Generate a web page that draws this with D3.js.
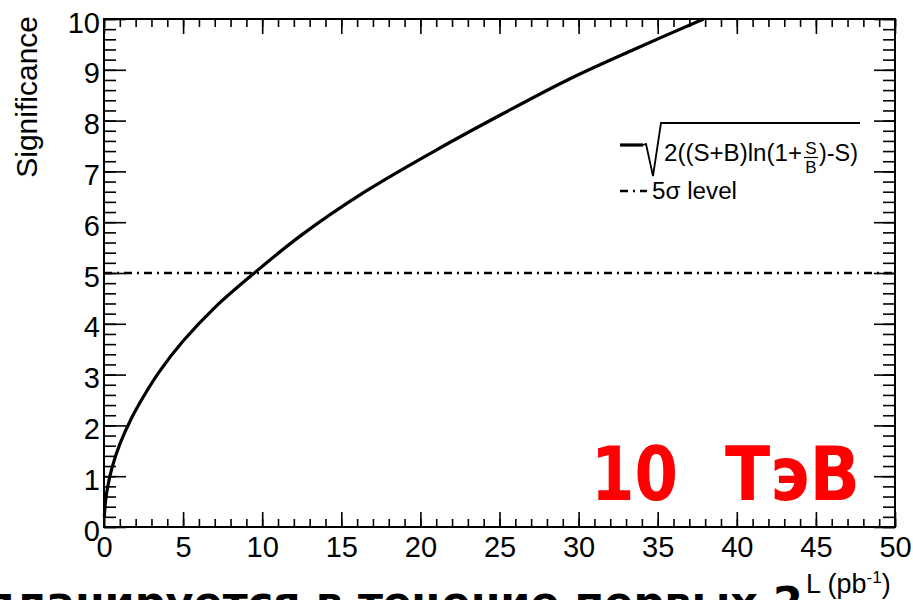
<!DOCTYPE html>
<html>
<head>
<meta charset="utf-8">
<script src="https://cdn.jsdelivr.net/npm/d3@7"></script>
<style>
  html, body { margin: 0; padding: 0; background: #fff; }
  svg { display: block; }
</style>
</head>
<body>
<svg id="chart" width="913" height="600"></svg>
<script>
// ---- data ----
const lumi = [0.02, 0.1, 0.25, 0.5, 1, 1.75, 2.5, 3.5, 5, 7, 9.5, 12.5, 16.5, 21, 25, 29.3, 33.5, 37.9];
const significance = [0.2, 0.52, 0.82, 1.16, 1.63, 2.15, 2.57, 3.06, 3.66, 4.32, 5.0, 5.75, 6.6, 7.42, 8.1, 8.8, 9.4, 10.0];
const fiveSigma = 5;
const xTicks = [0, 5, 10, 15, 20, 25, 30, 35, 40, 45, 50];
const yTicks = [0, 1, 2, 3, 4, 5, 6, 7, 8, 9, 10];
const xLabel = "L (pb";
const yLabel = "Significance";
const legendLevel = "5\u03C3 level";
const energyNumber = "10";
const energyUnit = "ТэВ";
const footerText = "планируется в течение первых 2";

(function () {
const svg = d3.select("#chart");
const pLeft = 104, pRight = 895, pTop = 19, pBottom = 527;
const x = d3.scaleLinear().domain([0, 50]).range([pLeft, pRight]);
const y = d3.scaleLinear().domain([0, 10]).range([pBottom, pTop]);
const font = "'Liberation Sans', Arial, Helvetica, sans-serif";

// frame
svg.append("rect").attr("x", pLeft).attr("y", pTop)
  .attr("width", pRight - pLeft).attr("height", pBottom - pTop)
  .attr("fill", "none").attr("stroke", "#000").attr("stroke-width", 2);

const xMinor = d3.range(0, 51, 1);
const yMinor = d3.range(0, 51, 1).map(v => v / 5);

function styleAxis(g, labels) {
  g.select(".domain").remove();
  g.selectAll("line").attr("stroke", "#000").attr("stroke-width", 1.6);
  if (labels) {
    g.selectAll("text").attr("font-family", font).attr("font-size", 29).attr("fill", "#000");
  } else {
    g.selectAll("text").remove();
  }
}

// bottom axis
svg.append("g").attr("transform", `translate(0,${pBottom})`)
  .call(d3.axisBottom(x).tickValues(xMinor).tickSize(-8).tickFormat(""))
  .call(g => styleAxis(g, false));
svg.append("g").attr("transform", `translate(0,${pBottom})`)
  .call(d3.axisBottom(x).tickValues(xTicks).tickSize(-15).tickPadding(9).tickFormat(d3.format("d")))
  .call(g => styleAxis(g, true));
// top axis
svg.append("g").attr("transform", `translate(0,${pTop})`)
  .call(d3.axisTop(x).tickValues(xMinor).tickSize(-8).tickFormat(""))
  .call(g => styleAxis(g, false));
svg.append("g").attr("transform", `translate(0,${pTop})`)
  .call(d3.axisTop(x).tickValues(xTicks).tickSize(-15).tickFormat(""))
  .call(g => styleAxis(g, false));
// left axis
svg.append("g").attr("transform", `translate(${pLeft},0)`)
  .call(d3.axisLeft(y).tickValues(yMinor).tickSize(-12).tickFormat(""))
  .call(g => styleAxis(g, false));
svg.append("g").attr("transform", `translate(${pLeft},0)`)
  .call(d3.axisLeft(y).tickValues(yTicks).tickSize(-22).tickPadding(4).tickFormat(d3.format("d")))
  .call(g => { styleAxis(g, true); g.selectAll("text").attr("dy", "0.45em"); });
// right axis
svg.append("g").attr("transform", `translate(${pRight},0)`)
  .call(d3.axisRight(y).tickValues(yMinor).tickSize(-12).tickFormat(""))
  .call(g => styleAxis(g, false));
svg.append("g").attr("transform", `translate(${pRight},0)`)
  .call(d3.axisRight(y).tickValues(yTicks).tickSize(-21).tickFormat(""))
  .call(g => styleAxis(g, false));

// 5 sigma line
svg.append("line")
  .attr("x1", x(0)).attr("x2", x(50)).attr("y1", y(fiveSigma)).attr("y2", y(fiveSigma))
  .attr("stroke", "#000").attr("stroke-width", 2.4).attr("stroke-dasharray", "8,5,2,5");

// significance curve
const pts = lumi.map((l, i) => [l, significance[i]]);
svg.append("path").datum(pts)
  .attr("d", d3.line().x(d => x(d[0])).y(d => y(d[1])).curve(d3.curveCatmullRom.alpha(0.5)))
  .attr("fill", "none").attr("stroke", "#000").attr("stroke-width", 3.2);

// axis titles
svg.append("text").attr("transform", "translate(37,16) rotate(-90)")
  .attr("text-anchor", "end").attr("font-family", font).attr("font-size", 30)
  .attr("fill", "#000").text(yLabel);

const xt = svg.append("text").attr("x", 806).attr("y", 593)
  .attr("font-family", font).attr("font-size", 27).attr("fill", "#000");
xt.append("tspan").text(xLabel);
xt.append("tspan").attr("font-size", 17).attr("dy", -10).text("-1");
xt.append("tspan").attr("dy", 10).text(")");

// legend
const lg = svg.append("g");
lg.append("line").attr("x1", 620).attr("x2", 643).attr("y1", 145).attr("y2", 145)
  .attr("stroke", "#000").attr("stroke-width", 3.2);
lg.append("path").attr("d", "M643,145 L646,144 L653,176 L661,123 L860,123")
  .attr("fill", "none").attr("stroke", "#000").attr("stroke-width", 1.8);
lg.append("text").attr("x", 664).attr("y", 161)
  .attr("font-family", font).attr("font-size", 23).attr("fill", "#000")
  .attr("textLength", 138).attr("lengthAdjust", "spacingAndGlyphs").text("2((S+B)ln(1+");
lg.append("text").attr("x", 811).attr("y", 154).attr("text-anchor", "middle")
  .attr("font-family", font).attr("font-size", 17).attr("fill", "#000").text("S");
lg.append("line").attr("x1", 804).attr("x2", 818).attr("y1", 157.5).attr("y2", 157.5)
  .attr("stroke", "#000").attr("stroke-width", 1.2);
lg.append("text").attr("x", 811).attr("y", 173).attr("text-anchor", "middle")
  .attr("font-family", font).attr("font-size", 17).attr("fill", "#000").text("B");
lg.append("text").attr("x", 819).attr("y", 161)
  .attr("font-family", font).attr("font-size", 23).attr("fill", "#000")
  .attr("textLength", 39).attr("lengthAdjust", "spacingAndGlyphs").text(")-S)");

lg.append("line").attr("x1", 620).attr("x2", 647).attr("y1", 191).attr("y2", 191)
  .attr("stroke", "#000").attr("stroke-width", 2.4).attr("stroke-dasharray", "8,5,2,5");
lg.append("text").attr("x", 652).attr("y", 199)
  .attr("font-family", font).attr("font-size", 23).attr("fill", "#000")
  .attr("textLength", 85).attr("lengthAdjust", "spacingAndGlyphs").text(legendLevel);

// red energy label
const redFont = "'DejaVu Sans', Verdana, sans-serif";
svg.append("text").attr("x", 591).attr("y", 500)
  .attr("font-family", redFont).attr("font-weight", "bold").attr("font-size", 75)
  .attr("fill", "#ff0000").attr("textLength", 87).attr("lengthAdjust", "spacingAndGlyphs")
  .text(energyNumber);
svg.append("text").attr("x", 725).attr("y", 500)
  .attr("font-family", redFont).attr("font-weight", "bold").attr("font-size", 75)
  .attr("fill", "#ff0000").attr("textLength", 135).attr("lengthAdjust", "spacingAndGlyphs")
  .text(energyUnit);

// footer text (cut off at the bottom)
svg.append("text").attr("x", 803).attr("y", 617).attr("text-anchor", "end")
  .attr("font-family", redFont).attr("font-weight", "bold").attr("font-size", 43)
  .attr("fill", "#000").text(footerText);
})();
</script>
</body>
</html>
